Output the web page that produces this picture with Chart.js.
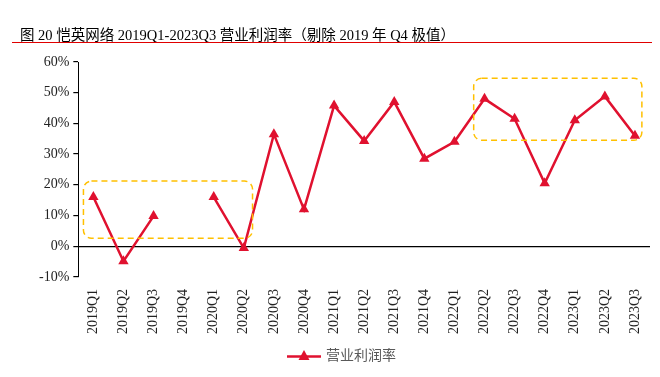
<!DOCTYPE html>
<html>
<head>
<meta charset="utf-8">
<script src="https://cdn.jsdelivr.net/npm/chart.js@4"></script>
<style>
  body { margin: 0; background: #fff; }
  #wrap { position: relative; width: 660px; height: 377px; }
  #title {
    position: absolute; left: 20px; top: 23px;
    font: 14.5px "Liberation Serif", "Noto Sans CJK SC", serif; color: #000;
    white-space: nowrap;
  }
  #rule { position: absolute; left: 12px; top: 42px; width: 640px; height: 1px; background: #e00000; }
  #chart { position: absolute; left: 0; top: 0; }
</style>
</head>
<body>
<div id="wrap">
  <canvas id="chart" width="660" height="377"></canvas>
  <div id="title">图 20 恺英网络 2019Q1-2023Q3 营业利润率（剔除 2019 年 Q4 极值）</div>
  <div id="rule"></div>
</div>
<script>
// quarters on the x axis
var quarters = [
    '2019Q1', '2019Q2', '2019Q3', '2019Q4', '2020Q1', '2020Q2', '2020Q3', '2020Q4',
    '2021Q1', '2021Q2', '2021Q3', '2021Q4', '2022Q1', '2022Q2', '2022Q3', '2022Q4',
    '2023Q1', '2023Q2', '2023Q3'
];
// operating margin, % (2019Q4 removed as outlier)
var operatingMargin = [
    16.0, -4.9, 9.8, null, 16.0, -0.6, 36.5, 12.0,
    45.8, 34.3, 47.0, 28.5, 34.0, 48.0, 41.5, 20.5,
    41.0, 48.8, 36.0
];
var seriesLabel = '营业利润率';
// highlighted regions, in axis units: [fromIndex, toIndex, topPct, bottomPct]
var highlightBoxes = [
    [-0.33, 5.29, 21.2, 2.6],
    [12.64, 18.23, 54.7, 34.5]
];

var lineColor = '#e0112f';

// legend sample: short line with a triangle on it
var legendIcon = document.createElement('canvas');
legendIcon.width = 34;
legendIcon.height = 12;
(function () {
    var c = legendIcon.getContext('2d');
    c.strokeStyle = lineColor;
    c.lineWidth = 2.5;
    c.beginPath(); c.moveTo(0, 7.5); c.lineTo(34, 7.5); c.stroke();
    c.fillStyle = lineColor;
    c.beginPath(); c.moveTo(17, 1); c.lineTo(22.5, 11); c.lineTo(11.5, 11); c.closePath(); c.fill();
})();

var chart_operatingMargin = new Chart(document.getElementById('chart'), {
    type: 'line',
    data: {
        labels: quarters,
        datasets: [{
            label: seriesLabel,
            data: operatingMargin,
            borderColor: lineColor,
            backgroundColor: lineColor,
            borderWidth: 2.5,
            pointStyle: 'triangle',
            pointRadius: 6,
            pointHoverRadius: 6,
            pointBorderWidth: 0,
            tension: 0,
            spanGaps: false
        }]
    },
    options: {
        animation: false,
        responsive: false,
        layout: { padding: { top: 62, left: 35, right: 10, bottom: 5 } },
        plugins: {
            legend: {
                position: 'bottom',
                labels: {
                    usePointStyle: true,
                    pointStyle: legendIcon,
                    pointStyleWidth: 30,
                    color: '#595959',
                    font: { family: '"Noto Sans CJK SC", sans-serif', size: 14 },
                    padding: 10,
                    generateLabels: function (chart) {
                        return [{
                            text: seriesLabel,
                            pointStyle: legendIcon,
                            fontColor: '#595959',
                            strokeStyle: lineColor,
                            fillStyle: lineColor,
                            lineWidth: 0,
                            datasetIndex: 0
                        }];
                    }
                }
            },
            tooltip: { enabled: false }
        },
        scales: {
            x: {
                offset: true,
                border: { display: false },
                grid: { display: false },
                ticks: {
                    minRotation: 90,
                    maxRotation: 90,
                    autoSkip: false,
                    color: '#222',
                    padding: 4,
                    font: { family: '"Liberation Serif", serif', size: 14 }
                }
            },
            y: {
                min: -10,
                max: 60,
                border: { display: true, color: '#000', width: 1 },
                grid: {
                    drawOnChartArea: true,
                    color: function (ctx) { return ctx.tick && ctx.tick.value === 0 ? '#000' : 'rgba(0,0,0,0)'; },
                    lineWidth: 1.2,
                    tickColor: '#000',
                    tickLength: 5
                },
                ticks: {
                    stepSize: 10,
                    color: '#222',
                    padding: 4,
                    font: { family: '"Liberation Serif", serif', size: 14 },
                    callback: function (v) { return v + '%'; }
                }
            }
        }
    },
    plugins: [{
        id: 'highlightBoxes',
        afterDatasetsDraw: function (chart) {
            var ctx = chart.ctx, xs = chart.scales.x, ys = chart.scales.y;
            ctx.save();
            ctx.strokeStyle = '#ffc000';
            ctx.lineWidth = 1.5;
            ctx.setLineDash([6, 4]);
            highlightBoxes.forEach(function (b) {
                var x0 = xs.getPixelForValue(b[0]), x1 = xs.getPixelForValue(b[1]);
                var y0 = ys.getPixelForValue(b[2]), y1 = ys.getPixelForValue(b[3]);
                ctx.beginPath();
                ctx.roundRect(x0, y0, x1 - x0, y1 - y0, 8);
                ctx.stroke();
            });
            ctx.restore();
        }
    }]
});
</script>
</body>
</html>
